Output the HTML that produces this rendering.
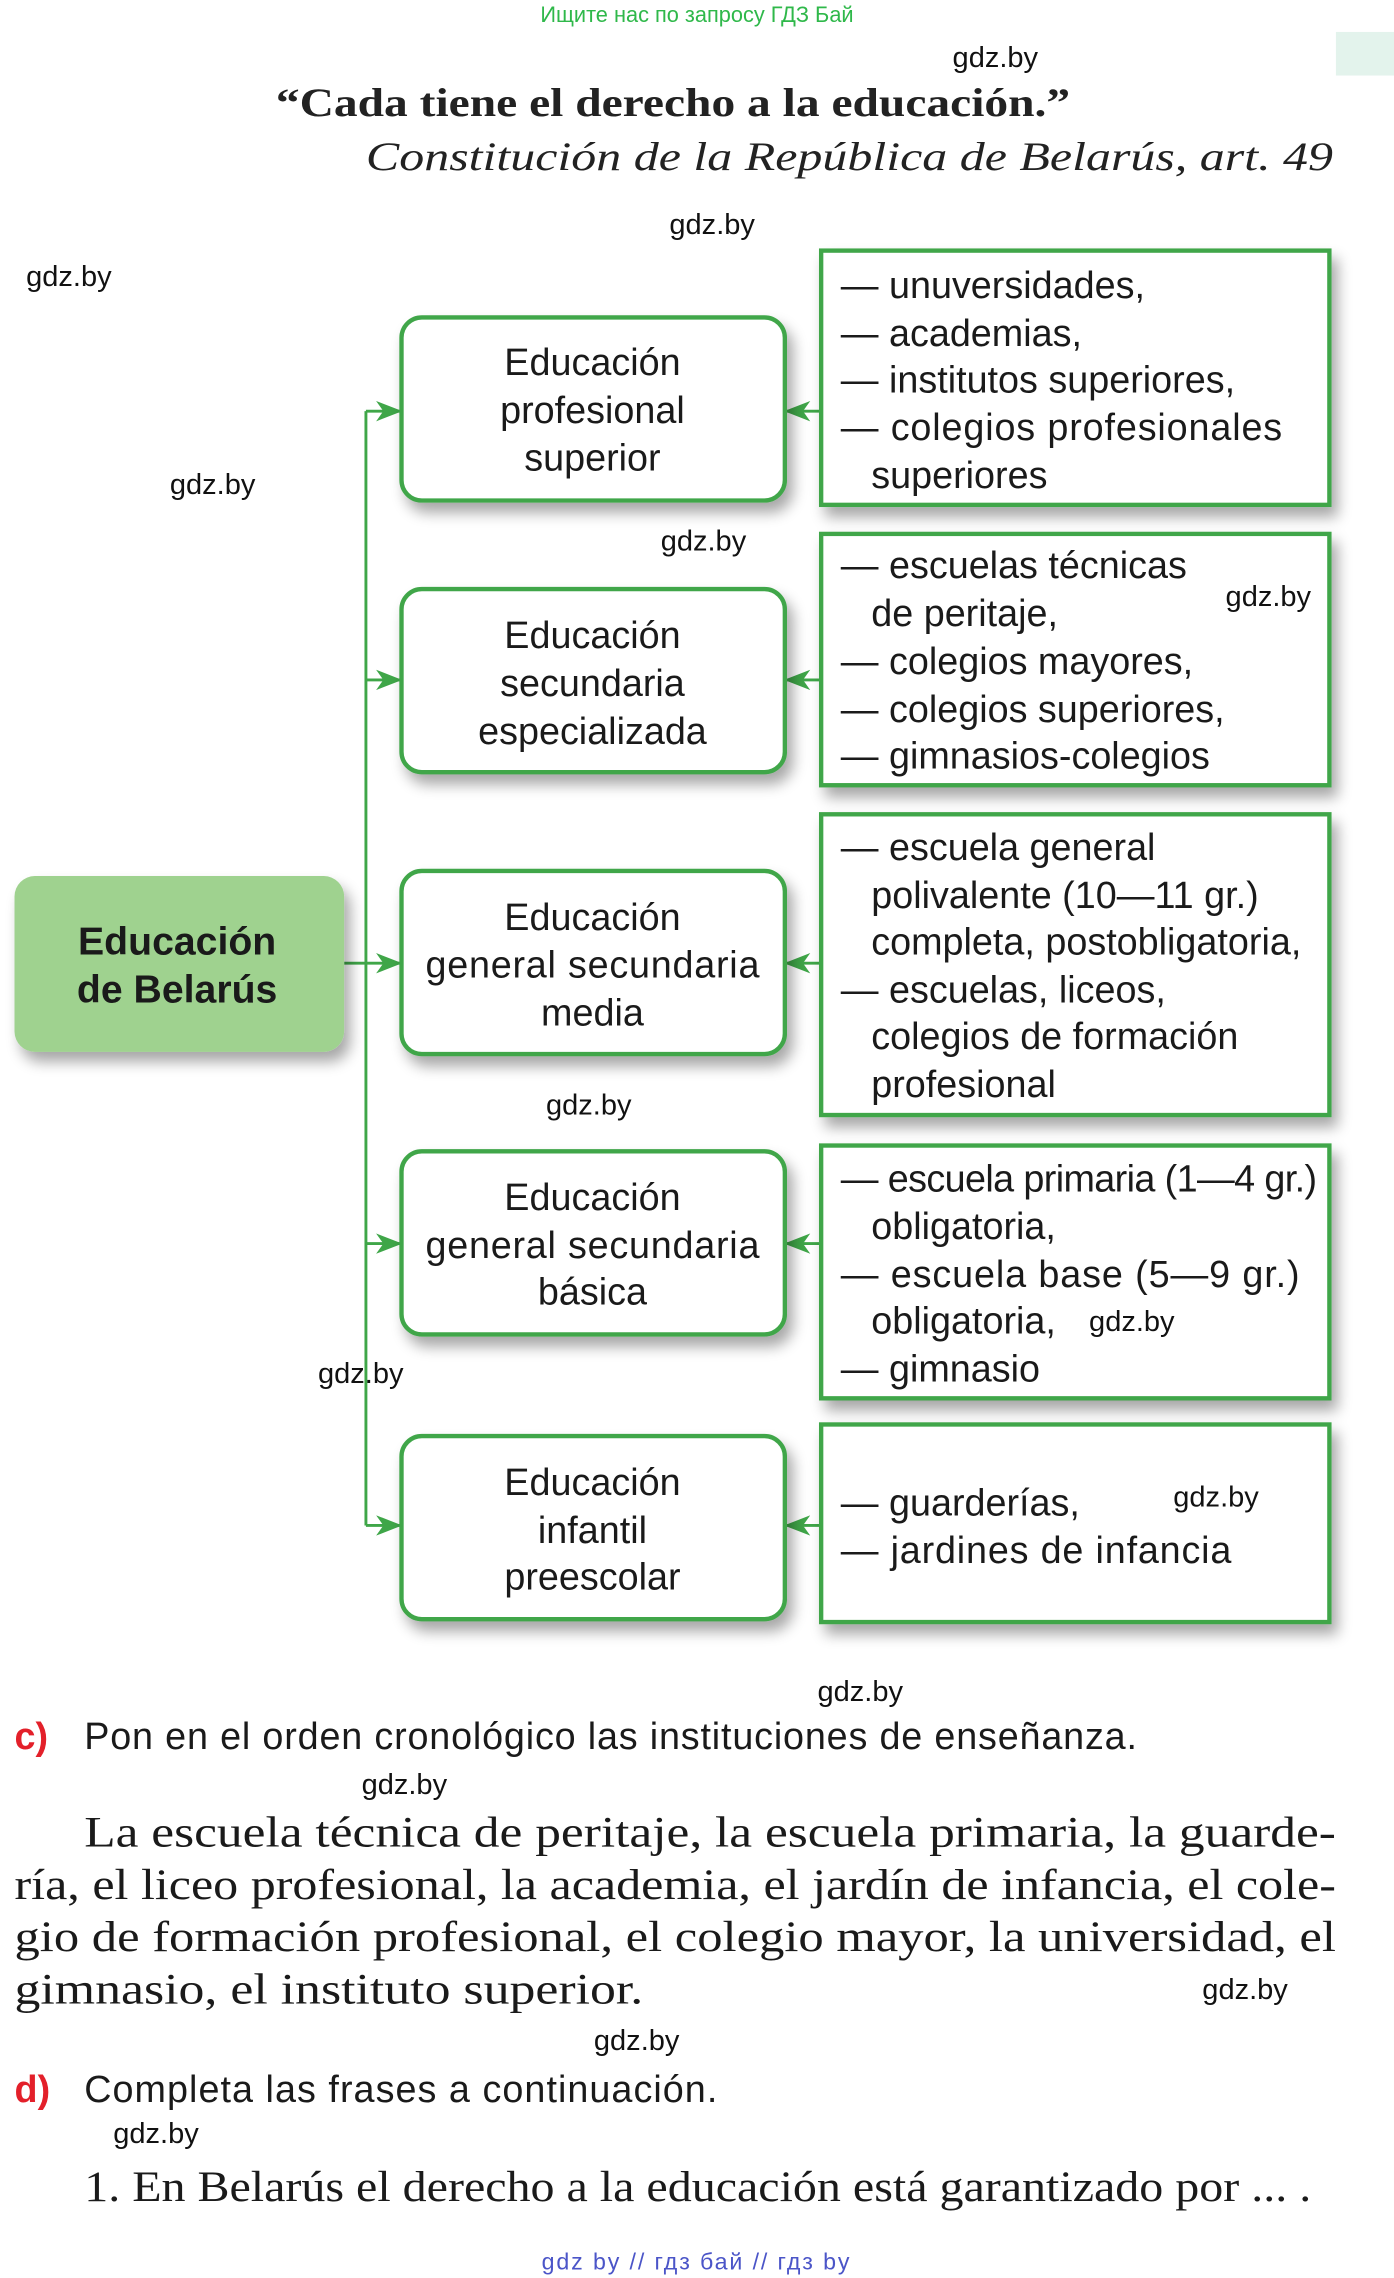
<!DOCTYPE html>
<html><head><meta charset="utf-8"><style>
html,body{margin:0;padding:0;background:#fff;}
svg{display:block;}
.s{font-family:"Liberation Sans","Noto Sans CJK SC",sans-serif;}
.r{font-family:"Liberation Serif",serif;}
</style></head><body>
<svg width="1394" height="2278" viewBox="0 0 960 1568" preserveAspectRatio="none" xmlns="http://www.w3.org/2000/svg">
<defs>
<filter id="sh" x="-10%" y="-10%" width="130%" height="140%"><feGaussianBlur in="SourceAlpha" stdDeviation="5"/><feOffset dx="4" dy="7"/><feComponentTransfer><feFuncA type="linear" slope="0.35"/></feComponentTransfer><feMerge><feMergeNode/><feMergeNode in="SourceGraphic"/></feMerge></filter>
<marker id="ar" markerWidth="18" markerHeight="14" refX="17" refY="7" orient="auto" markerUnits="userSpaceOnUse"><path d="M0,0 L18,7 L0,14 L5,7 Z" fill="#3fa648"/></marker>
</defs>
<rect x="920" y="22" width="40" height="30" fill="#e3f3ec"/>
<text class="s" x="480" y="15" font-size="15" fill="#2fb84a" text-anchor="middle">Ищите нас по запросу ГДЗ Бай</text>
<text class="r" x="190" y="80" font-size="28" font-weight="bold" fill="#222" textLength="547" lengthAdjust="spacingAndGlyphs">“Cada tiene el derecho a la educación.”</text>
<text class="r" x="252" y="117" font-size="28" font-style="italic" fill="#222" textLength="666" lengthAdjust="spacingAndGlyphs">Constitución de la República de Belarús, art. 49</text>

<!-- connectors -->
<g stroke="#3fa648" stroke-width="2" fill="none">
<line x1="252" y1="283" x2="252" y2="1050"/>
<line x1="237" y1="663" x2="252" y2="663"/>
<line x1="252" y1="283" x2="276" y2="283" marker-end="url(#ar)"/>
<line x1="252" y1="468" x2="276" y2="468" marker-end="url(#ar)"/>
<line x1="252" y1="663" x2="276" y2="663" marker-end="url(#ar)"/>
<line x1="252" y1="856" x2="276" y2="856" marker-end="url(#ar)"/>
<line x1="252" y1="1050" x2="276" y2="1050" marker-end="url(#ar)"/>
<line x1="565" y1="283" x2="541" y2="283" marker-end="url(#ar)"/>
<line x1="565" y1="468" x2="541" y2="468" marker-end="url(#ar)"/>
<line x1="565" y1="663" x2="541" y2="663" marker-end="url(#ar)"/>
<line x1="565" y1="856" x2="541" y2="856" marker-end="url(#ar)"/>
<line x1="565" y1="1050" x2="541" y2="1050" marker-end="url(#ar)"/>
</g>

<rect x="10" y="603" width="227" height="121" rx="14" fill="#9fd28f" filter="url(#sh)"/>
<text class="s" font-size="27" font-weight="bold" fill="#1a1a1a" text-anchor="middle"><tspan x="122" y="657">Educación</tspan><tspan x="122" y="690">de Belarús</tspan></text>

<g fill="#fff" stroke="#3fa648" stroke-width="3" filter="url(#sh)">
<rect x="276.5" y="218.5" width="264" height="126" rx="14"/>
<rect x="276.5" y="405.5" width="264" height="126" rx="14"/>
<rect x="276.5" y="599.5" width="264" height="126" rx="14"/>
<rect x="276.5" y="792.5" width="264" height="126" rx="14"/>
<rect x="276.5" y="988.5" width="264" height="126" rx="14"/>
<rect x="565.5" y="172.5" width="350" height="175"/>
<rect x="565.5" y="367.5" width="350" height="173"/>
<rect x="565.5" y="560.5" width="350" height="207"/>
<rect x="565.5" y="788.5" width="350" height="174"/>
<rect x="565.5" y="980.5" width="350" height="136"/>
</g>

<g class="s" font-size="20" fill="#111">
<text x="656" y="46">gdz.by</text><text x="461" y="161">gdz.by</text><text x="18" y="197">gdz.by</text>
<text x="117" y="340">gdz.by</text><text x="455" y="379">gdz.by</text><text x="844" y="417">gdz.by</text>
<text x="376" y="767">gdz.by</text><text x="750" y="916">gdz.by</text><text x="219" y="952">gdz.by</text>
<text x="808" y="1037">gdz.by</text><text x="563" y="1171">gdz.by</text><text x="249" y="1235">gdz.by</text>
<text x="828" y="1376">gdz.by</text><text x="409" y="1411">gdz.by</text><text x="78" y="1475">gdz.by</text>
</g>

<g class="s" font-size="26" fill="#1a1a1a" text-anchor="middle">
<text><tspan x="408" y="258">Educación</tspan><tspan x="408" y="291">profesional</tspan><tspan x="408" y="324">superior</tspan></text>
<text><tspan x="408" y="446">Educación</tspan><tspan x="408" y="479">secundaria</tspan><tspan x="408" y="512">especializada</tspan></text>
<text><tspan x="408" y="640">Educación</tspan><tspan x="408" y="673" textLength="230">general secundaria</tspan><tspan x="408" y="706">media</tspan></text>
<text><tspan x="408" y="833">Educación</tspan><tspan x="408" y="866" textLength="230">general secundaria</tspan><tspan x="408" y="898">básica</tspan></text>
<text><tspan x="408" y="1029">Educación</tspan><tspan x="408" y="1062">infantil</tspan><tspan x="408" y="1094">preescolar</tspan></text>
</g>
<g class="s" font-size="26" fill="#1a1a1a">
<text><tspan x="579" y="205">— unuversidades,</tspan><tspan x="579" y="238">— academias,</tspan><tspan x="579" y="270">— institutos superiores,</tspan><tspan x="579" y="303" textLength="304">— colegios profesionales</tspan><tspan x="600" y="336">superiores</tspan></text>
<text><tspan x="579" y="398">— escuelas técnicas</tspan><tspan x="600" y="431">de peritaje,</tspan><tspan x="579" y="464">— colegios mayores,</tspan><tspan x="579" y="497">— colegios superiores,</tspan><tspan x="579" y="529">— gimnasios-colegios</tspan></text>
<text><tspan x="579" y="592">— escuela general</tspan><tspan x="600" y="625">polivalente (10—11 gr.)</tspan><tspan x="600" y="657">completa, postobligatoria,</tspan><tspan x="579" y="690">— escuelas, liceos,</tspan><tspan x="600" y="722">colegios de formación</tspan><tspan x="600" y="755">profesional</tspan></text>
<text><tspan x="579" y="820" textLength="328">— escuela primaria (1—4 gr.)</tspan><tspan x="600" y="853">obligatoria,</tspan><tspan x="579" y="886" textLength="316">— escuela base (5—9 gr.)</tspan><tspan x="600" y="918">obligatoria,</tspan><tspan x="579" y="951">— gimnasio</tspan></text>
<text><tspan x="579" y="1043">— guarderías,</tspan><tspan x="579" y="1076" textLength="269">— jardines de infancia</tspan></text>
</g>

<text class="s" x="10" y="1204" font-size="26" font-weight="bold" fill="#e3202a">c)</text>
<text class="s" x="58" y="1204" font-size="26" fill="#1a1a1a" textLength="725">Pon en el orden cronológico las instituciones de enseñanza.</text>
<g class="r" font-size="30" fill="#1a1a1a">
<text x="58" y="1271" textLength="862" lengthAdjust="spacingAndGlyphs">La escuela técnica de peritaje, la escuela primaria, la guarde-</text>
<text x="10" y="1307" textLength="910" lengthAdjust="spacingAndGlyphs">ría, el liceo profesional, la academia, el jardín de infancia, el cole-</text>
<text x="10" y="1343" textLength="910" lengthAdjust="spacingAndGlyphs">gio de formación profesional, el colegio mayor, la universidad, el</text>
<text x="10" y="1379" textLength="433" lengthAdjust="spacingAndGlyphs">gimnasio, el instituto superior.</text>
</g>
<text class="s" x="10" y="1447" font-size="26" font-weight="bold" fill="#e3202a">d)</text>
<text class="s" x="58" y="1447" font-size="26" fill="#1a1a1a" textLength="436">Completa las frases a continuación.</text>
<text class="r" x="58" y="1515" font-size="30" fill="#1a1a1a" textLength="845" lengthAdjust="spacingAndGlyphs">1. En Belarús el derecho a la educación está garantizado por ... .</text>
<text class="s" x="373" y="1562" font-size="16" fill="#4b55c8" textLength="212">gdz by  //  гдз бай  //  гдз by</text>
</svg>
</body></html>
